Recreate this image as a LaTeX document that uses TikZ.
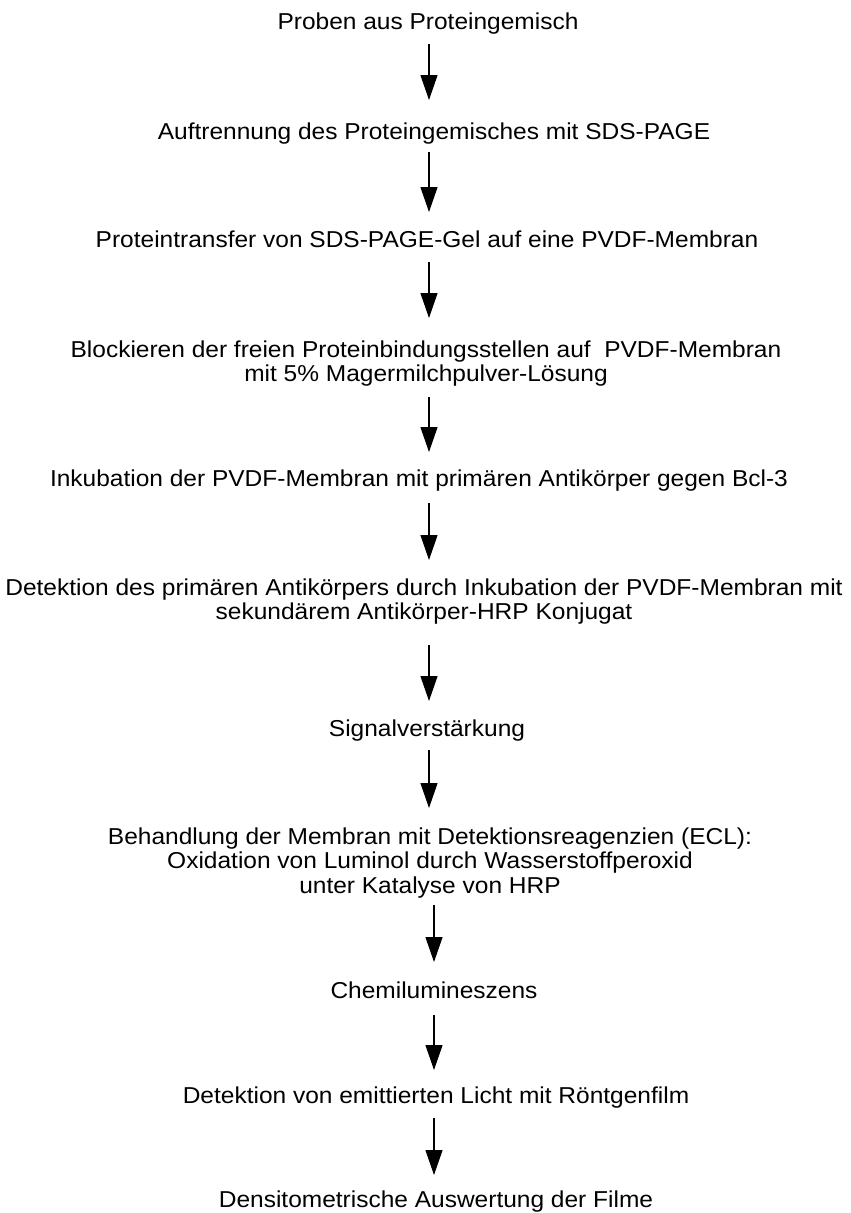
\documentclass[tikz,border=0pt]{standalone}
\usepackage{fontspec}
\setmainfont{Liberation Sans}[FakeStretch=1.065]
\usetikzlibrary{arrows.meta}
\begin{document}
\begin{tikzpicture}[x=1pt,y=-1pt,
  stepbox/.style={inner sep=0pt, anchor=north, align=center,
    font=\fontsize{23}{24.5}\selectfont, text height=17pt, text depth=5pt},
  twolines/.style={text height=41.5pt},
  threelines/.style={text height=66pt},
  arr/.style={line width=1.2pt, -{Triangle[length=25pt,width=17pt]}}]
\useasboundingbox (0,0) rectangle (851,1213);
% x positions of the arrow column
\coordinate (cA) at (429,0);
\coordinate (cB) at (434,0);
% workflow steps (north = 17pt above the first baseline)
\node[stepbox] (s1) at (428,12) {Proben aus Proteingemisch};
\node[stepbox] (s2) at (434,122) {Auftrennung des Proteingemisches mit SDS-PAGE};
\node[stepbox] (s3) at (427,230) {Proteintransfer von SDS-PAGE-Gel auf eine PVDF-Membran};
\node[stepbox, twolines] (s4) at (426,340) {Blockieren der freien Proteinbindungsstellen auf \ PVDF-Membran\\mit 5\% Magermilchpulver-L\"osung};
\node[stepbox] (s5) at (419,469) {Inkubation der PVDF-Membran mit prim\"aren Antik\"orper gegen Bcl-3};
\node[stepbox, twolines] (s6) at (424,578) {Detektion des prim\"aren Antik\"orpers durch Inkubation der PVDF-Membran mit\\sekund\"arem Antik\"orper-HRP Konjugat};
\node[stepbox] (s7) at (427,719) {Signalverst\"arkung};
\node[stepbox, threelines] (s8) at (430,827) {Behandlung der Membran mit Detektionsreagenzien (ECL):\\Oxidation von Luminol durch Wasserstoffperoxid\\unter Katalyse von HRP};
\node[stepbox] (s9) at (434,981) {Chemilumineszens};
\node[stepbox] (s10) at (436,1086) {Detektion von emittierten Licht mit R\"ontgenfilm};
\node[stepbox] (s11) at (436,1190) {Densitometrische Auswertung der Filme};
% connectors
\draw[arr, shorten <=10pt, shorten >=22pt] (cA |- s1.south) -- (cA |- s2.north);
\draw[arr, shorten <=8pt, shorten >=18pt] (cA |- s2.south) -- (cA |- s3.north);
\draw[arr, shorten <=10pt, shorten >=22pt] (cA |- s3.south) -- (cA |- s4.north);
\draw[arr, shorten <=10pt, shorten >=17pt] (cA |- s4.south) -- (cA |- s5.north);
\draw[arr, shorten <=12pt, shorten >=18pt] (cA |- s5.south) -- (cA |- s6.north);
\draw[arr, shorten <=20pt, shorten >=18pt] (cA |- s6.south) -- (cA |- s7.north);
\draw[arr, shorten <=9pt, shorten >=19pt] (cA |- s7.south) -- (cA |- s8.north);
\draw[arr, shorten <=7pt, shorten >=19pt] (cB |- s8.south) -- (cB |- s9.north);
\draw[arr, shorten <=12pt, shorten >=16pt] (cB |- s9.south) -- (cB |- s10.north);
\draw[arr, shorten <=10pt, shorten >=15pt] (cB |- s10.south) -- (cB |- s11.north);
\end{tikzpicture}
\end{document}
